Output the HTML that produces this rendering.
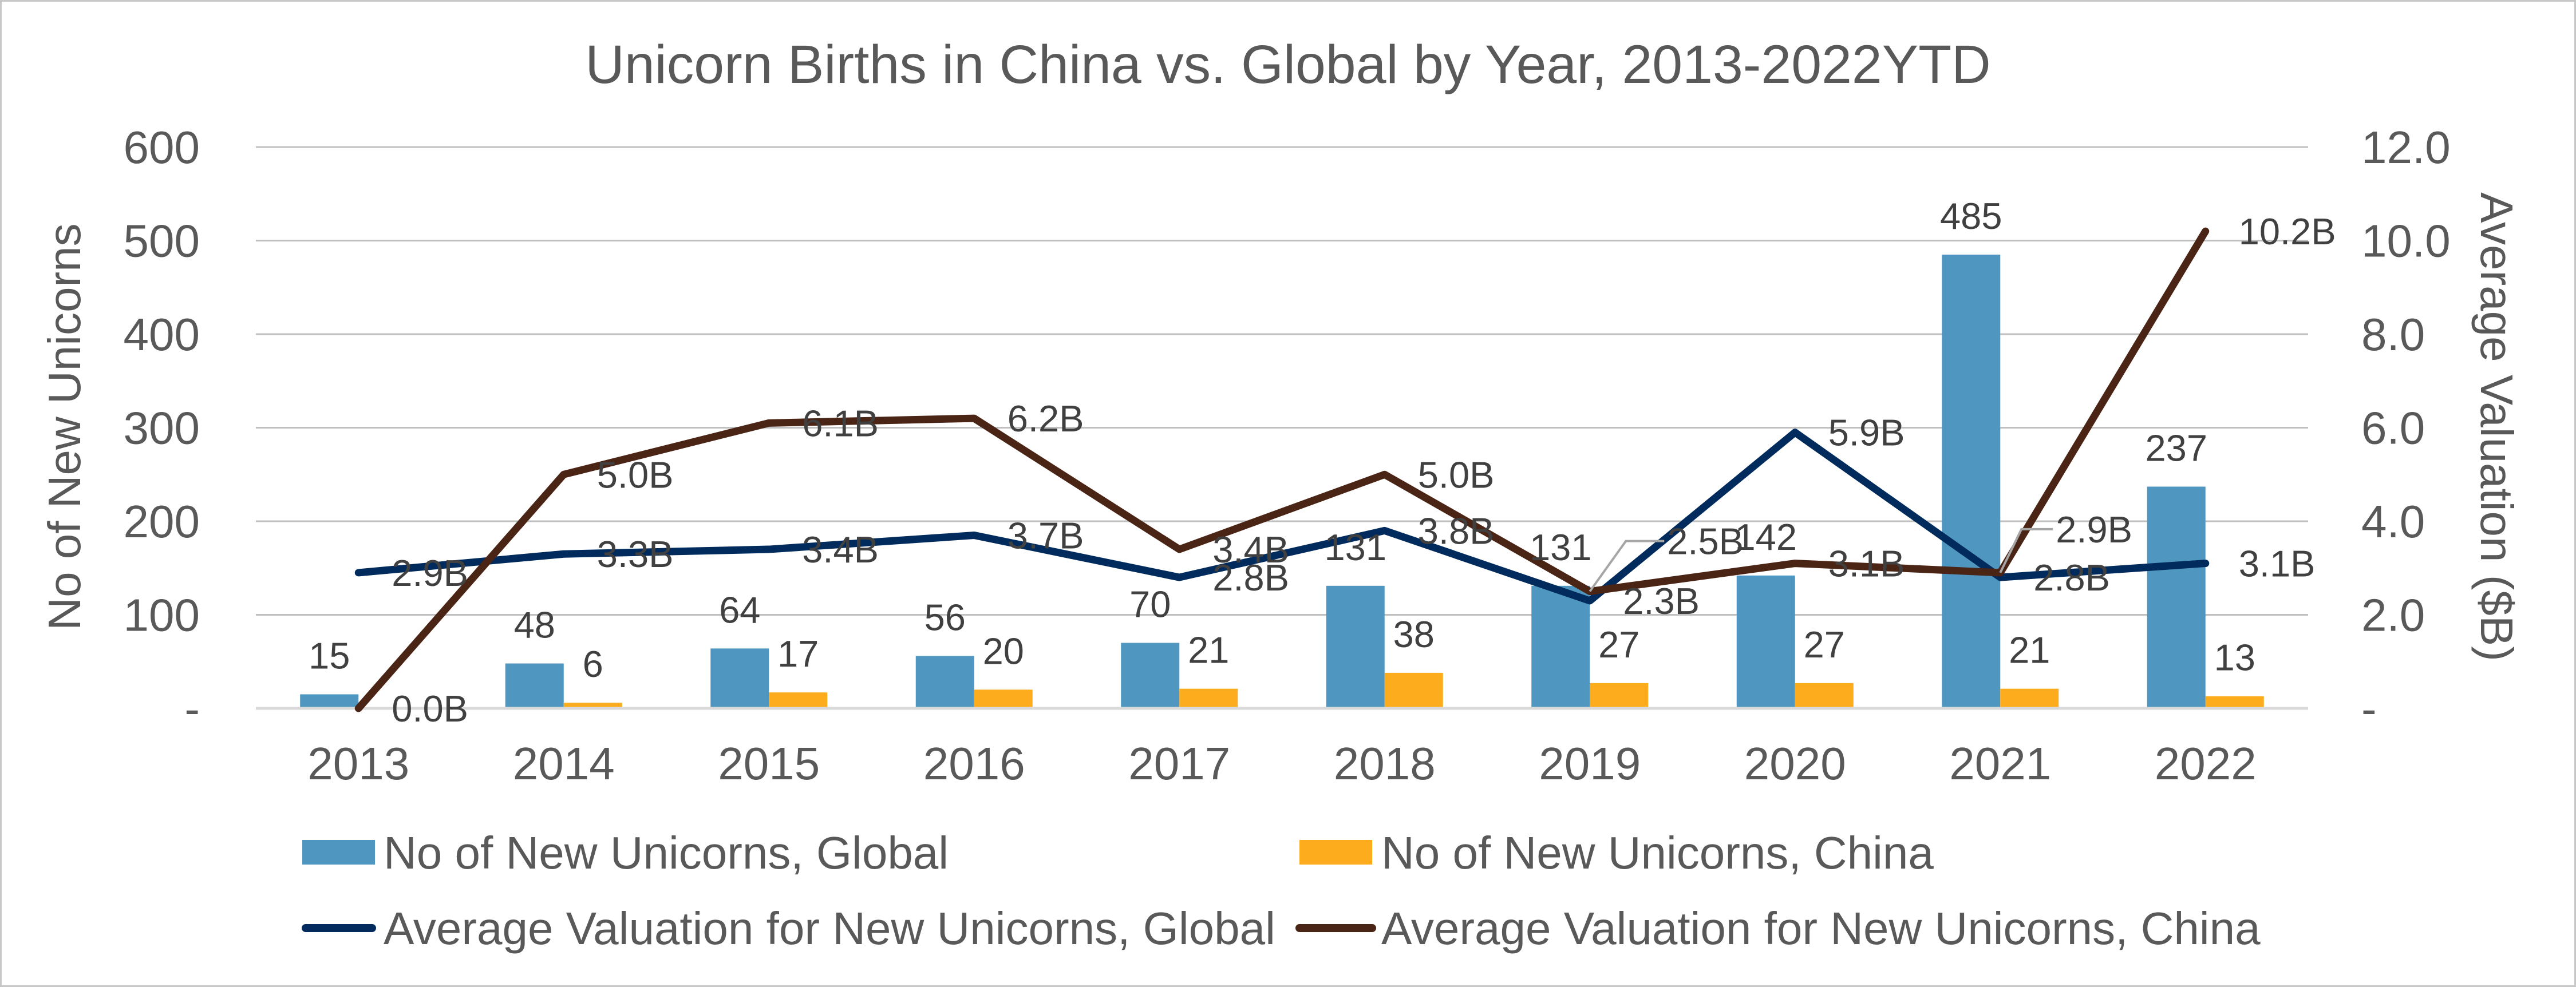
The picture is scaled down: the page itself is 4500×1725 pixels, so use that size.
<!DOCTYPE html>
<html><head><meta charset="utf-8"><style>
html,body{margin:0;padding:0;background:#fff;}
svg{display:block;font-family:"Liberation Sans",Arial,sans-serif;}
</style></head><body>
<svg id="chart" width="4500" height="1725" viewBox="0 0 4500 1725">
<rect x="1.5" y="1.5" width="4497" height="1722" fill="#fff" stroke="#c8c8c8" stroke-width="3"/>
<text x="2250" y="145" text-anchor="middle" font-size="95" fill="#595959">Unicorn Births in China vs. Global by Year, 2013-2022YTD</text>
<g id="grid"></g><g id="bars"></g><g id="lines"></g><g id="labels"></g>
<text transform="translate(140,746) rotate(-90)" text-anchor="middle" font-size="80" fill="#595959">No of New Unicorns</text>
<text transform="translate(4334,746) rotate(90)" text-anchor="middle" font-size="80" fill="#595959">Average Valuation ($B)</text>
<g>
<rect x="528" y="1468" width="127" height="43" fill="#4F97C0"/>
<text x="670" y="1518" font-size="80" fill="#595959">No of New Unicorns, Global</text>
<rect x="2270" y="1468" width="127" height="43" fill="#FCAC1C"/>
<text x="2413" y="1518" font-size="80" fill="#595959">No of New Unicorns, China</text>
<line x1="534" y1="1622" x2="650" y2="1622" stroke="#002B5C" stroke-width="14" stroke-linecap="round"/>
<text x="670" y="1650" font-size="80" fill="#595959">Average Valuation for New Unicorns, Global</text>
<line x1="2270" y1="1622" x2="2397" y2="1622" stroke="#4A2414" stroke-width="14" stroke-linecap="round"/>
<text x="2413" y="1650" font-size="80" fill="#595959">Average Valuation for New Unicorns, China</text>
</g>
</svg>
<script>
const years = ["2013","2014","2015","2016","2017","2018","2019","2020","2021","2022"];
const globalCount = [15,48,64,56,70,131,131,142,485,237];
const chinaCount = [0,6,17,20,21,38,27,27,21,13];
const globalVal = [2.9,3.3,3.4,3.7,2.8,3.8,2.3,5.9,2.8,3.1];
const chinaVal = [0.0,5.0,6.1,6.2,3.4,5.0,2.5,3.1,2.9,10.2];
const leftTicks = [0,100,200,300,400,500,600];
const leftTickLabels = ["-","100","200","300","400","500","600"];
const rightTicks = [0,2,4,6,8,10,12];
const rightTickLabels = ["-","2.0","4.0","6.0","8.0","10.0","12.0"];

const NS="http://www.w3.org/2000/svg";
const X0=447, X1=4032, Y0=1238, YTOP=257;
const band=(X1-X0)/years.length;
const xc=i=>X0+band*(i+0.5);
const yL=v=>Y0-(v/600)*(Y0-YTOP);
const yR=v=>Y0-(v/12)*(Y0-YTOP);
function mk(tag,attrs,parent,txt){const e=document.createElementNS(NS,tag);for(const k in attrs)e.setAttribute(k,attrs[k]);if(txt!==undefined)e.textContent=txt;parent.appendChild(e);return e;}
const grid=document.getElementById('grid'),bars=document.getElementById('bars'),lines=document.getElementById('lines'),labels=document.getElementById('labels');

leftTicks.forEach((t,i)=>{
  const y=yL(t);
  if(t>0){const g=mk('line',{x1:X0,x2:X1,y1:y,y2:y,stroke:'#c0c0c0','stroke-width':3},grid);
  
  }
  const l=mk('text',{x:349,y:y+28,'text-anchor':'end','font-size':80,fill:'#595959'},grid,leftTickLabels[i]);
  
  
});
rightTicks.forEach((t,i)=>{
  const l=mk('text',{x:4125,y:yR(t)+28,'font-size':80,fill:'#595959'},grid,rightTickLabels[i]);
  
  
});
years.forEach((yr,i)=>{
  const l=mk('text',{x:xc(i),y:1362,'text-anchor':'middle','font-size':80,fill:'#595959'},grid,yr);
  
  
});

const BW=102;
years.forEach((yr,i)=>{
  const c=xc(i);
  const yg=yL(globalCount[i]);
  const b1=mk('rect',{x:c-BW,y:yg,width:BW,height:Y0-yg,fill:'#4F97C0'},bars);
  
  
  const t1=mk('text',{x:c-BW/2,y:yg-45,'text-anchor':'middle','font-size':65,fill:'#404040'},labels,String(globalCount[i]));
  
  
  const yc=yL(chinaCount[i]);
  const b2=mk('rect',{x:c,y:yc,width:BW,height:Y0-yc,fill:'#FCAC1C'},bars);
  
  
  if(chinaCount[i]>0){
    const t2=mk('text',{x:c+BW/2,y:yc-45,'text-anchor':'middle','font-size':65,fill:'#404040'},labels,String(chinaCount[i]));
    
    
  }
});
const base=mk('line',{x1:X0,x2:X1,y1:Y0,y2:Y0,stroke:'#d9d9d9','stroke-width':5},bars);



function series(vals,color,name){
  const pts=vals.map((v,i)=>xc(i)+','+yR(v)).join(' ');
  const p=mk('polyline',{points:pts,fill:'none',stroke:color,'stroke-width':13,'stroke-linejoin':'round','stroke-linecap':'round'},lines);
  
  
}
series(globalVal,'#002B5C','line-global-valuation');
series(chinaVal,'#4A2414','line-china-valuation');

function vlabel(vals,i,name){
  let x=xc(i)+58,y=yR(vals[i])+23;
  const t=mk('text',{x:x,y:y,'font-size':65,fill:'#404040'},labels,vals[i].toFixed(1)+'B');
  
  
  return t;
}
globalVal.forEach((v,i)=>vlabel(globalVal,i,'value-label-global'));
chinaVal.forEach((v,i)=>{
  const t=vlabel(chinaVal,i,'value-label-china');
  if(i===6||i===8){
    const px=xc(i),py=yR(chinaVal[i]);
    const lx=px+(i===6?115:77), ly=py-(i===6?88:76);
    t.setAttribute('x',lx+20);t.setAttribute('y',ly+23);
    const ld=mk('polyline',{points:`${px},${py} ${px+(i===6?63:37)},${ly} ${lx+15},${ly}`,fill:'none',stroke:'#a6a6a6','stroke-width':4},labels);
    
    
  }
});
</script>
</body></html>
